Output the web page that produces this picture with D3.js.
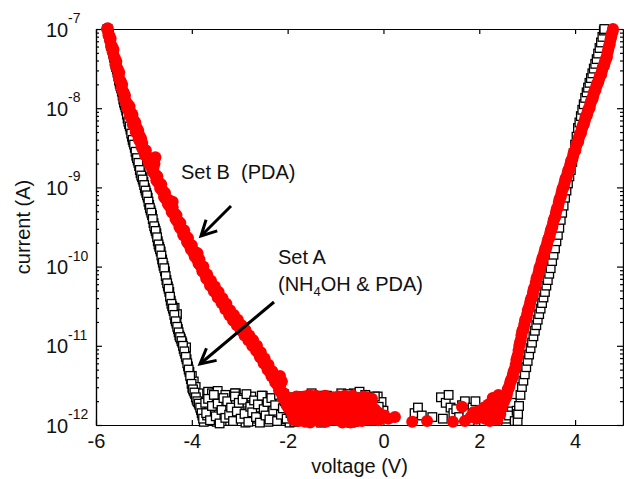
<!DOCTYPE html>
<html>
<head>
<meta charset="utf-8">
<script src="https://cdn.jsdelivr.net/npm/d3@7"></script>
<style>
  html, body { margin: 0; padding: 0; background: #fff; }
  svg { display: block; font-family: "Liberation Sans", Arial, sans-serif; }
</style>
</head>
<body>
<svg id="chart" width="624" height="479"></svg>
<script>
// I-V sweeps, each point is [voltage (V), log10 of current (A)]

// Set A (NH4OH & PDA): negative branch
const setALeft = [
  [-5.76,-7.00],[-5.73,-7.07],[-5.70,-7.17],[-5.67,-7.24],[-5.64,-7.31],[-5.61,-7.41],[-5.58,-7.48],[-5.55,-7.55],
  [-5.52,-7.65],[-5.49,-7.72],[-5.46,-7.79],[-5.43,-7.89],[-5.40,-7.96],[-5.37,-8.03],[-5.34,-8.13],[-5.31,-8.20],
  [-5.28,-8.27],[-5.25,-8.36],[-5.22,-8.43],[-5.19,-8.50],[-5.16,-8.60],[-5.13,-8.66],[-5.10,-8.73],[-5.07,-8.82],
  [-5.04,-8.87],[-5.01,-8.93],[-4.98,-9.01],[-4.95,-9.07],[-4.92,-9.13],[-4.89,-9.22],[-4.86,-9.29],[-4.83,-9.35],
  [-4.80,-9.45],[-4.77,-9.52],[-4.74,-9.58],[-4.71,-9.68],[-4.68,-9.75],[-4.65,-9.81],[-4.62,-9.91],[-4.59,-9.99],
  [-4.56,-10.06],[-4.53,-10.17],[-4.50,-10.25],[-4.47,-10.32],[-4.44,-10.43],[-4.41,-10.50],[-4.38,-10.56],[-4.35,-10.66],
  [-4.32,-10.72],[-4.29,-10.79],[-4.26,-10.87],[-4.23,-10.91],[-4.20,-10.96],[-4.17,-11.04],[-4.14,-11.10],[-4.11,-11.17],
  [-4.08,-11.26],[-4.05,-11.33],[-4.02,-11.42],[-3.99,-11.53],[-3.96,-11.57],[-3.93,-11.61],[-3.90,-11.68],[-3.87,-11.71],
  [-3.84,-11.75],[-3.81,-11.81],[-3.78,-11.88],[-3.75,-11.96],
  [-4.36,-10.52],[-4.31,-10.60],[-4.12,-11.02],[-4.00,-11.38],[-3.96,-11.45],[-3.92,-11.52],[-3.86,-11.60]
];
// interleaved readings of the same branch
const setALeftFill = [
  [-5.745,-7.03],[-5.715,-7.12],[-5.685,-7.21],[-5.655,-7.27],[-5.625,-7.36],[-5.595,-7.45],[-5.565,-7.51],[-5.535,-7.60],
  [-5.505,-7.69],[-5.475,-7.75],[-5.445,-7.84],[-5.415,-7.93],[-5.385,-7.99],[-5.355,-8.08],[-5.325,-8.17],[-5.295,-8.23],
  [-5.265,-8.32],[-5.235,-8.40],[-5.205,-8.46],[-5.175,-8.55],[-5.145,-8.63],[-5.115,-8.69],[-5.085,-8.78],[-5.055,-8.85],
  [-5.025,-8.90],[-4.995,-8.97],[-4.965,-9.04],[-4.935,-9.10],[-4.905,-9.18],[-4.875,-9.26],[-4.845,-9.32],[-4.815,-9.40],
  [-4.785,-9.49],[-4.755,-9.55],[-4.725,-9.63],[-4.695,-9.72],[-4.665,-9.78],[-4.635,-9.86],[-4.605,-9.95],[-4.575,-10.02],
  [-4.545,-10.12],[-4.515,-10.21],[-4.485,-10.28],[-4.455,-10.38],[-4.425,-10.47],[-4.395,-10.53],[-4.365,-10.61],[-4.335,-10.69],
  [-4.305,-10.76],[-4.275,-10.83],[-4.245,-10.89],[-4.215,-10.94],[-4.185,-11.00],[-4.155,-11.07],[-4.125,-11.14],[-4.095,-11.22],
  [-4.065,-11.30],[-4.035,-11.38],[-4.005,-11.48],[-3.975,-11.55],[-3.945,-11.59],[-3.915,-11.65],[-3.885,-11.70],[-3.855,-11.73],
  [-3.825,-11.78],[-3.795,-11.85],[-3.765,-11.92]
];

// Set A: leakage floor
const setAFloor = [
  [-3.72,-11.72],[-3.68,-11.88],[-3.64,-11.65],[-3.60,-11.93],[-3.56,-11.80],[-3.52,-11.70],[-3.48,-11.96],[-3.44,-11.84],
  [-3.40,-11.62],[-3.36,-11.90],[-3.32,-11.77],[-3.28,-11.86],[-3.24,-11.68],[-3.20,-11.95],[-3.16,-11.74],[-3.12,-11.83],
  [-3.08,-11.60],[-3.04,-11.91],[-3.00,-11.79],[-2.96,-11.87],[-2.92,-11.66],[-2.88,-11.97],[-2.84,-11.75],[-2.80,-11.82],
  [-2.76,-11.64],[-2.72,-11.92],[-2.68,-11.71],[-2.64,-11.89],[-2.60,-11.78],[-2.56,-11.94],[-2.52,-11.63],[-2.48,-11.85],
  [-2.44,-11.73],[-2.40,-11.96],[-2.36,-11.69],[-2.32,-11.81],[-2.28,-11.90],[-2.24,-11.67],[-2.20,-11.88],[-2.16,-11.76],
  [-2.12,-11.93],[-2.08,-11.61],[-2.04,-11.84],[-2.00,-11.72],[-1.96,-11.97],[-1.92,-11.79],[-1.88,-11.66],[-1.84,-11.91],
  [-1.80,-11.74],[-1.76,-11.86],[-1.72,-11.64],[-1.68,-11.95],[-1.64,-11.70],[-1.60,-11.83],[-1.56,-11.89],[-1.52,-11.62],
  [-1.48,-11.78],[-1.44,-11.93],[-1.40,-11.68],[-1.36,-11.85],[-1.32,-11.75],[-1.28,-11.96],[-1.24,-11.63],[-1.20,-11.80],
  [-1.16,-11.90],[-1.12,-11.71],[-1.08,-11.87],[-1.04,-11.66],[-1.00,-11.94],[-0.96,-11.77],[-0.92,-11.82],[-0.88,-11.60],
  [-0.84,-11.92],[-0.80,-11.73],[-0.76,-11.88],[-0.72,-11.65],[-0.68,-11.97],[-0.64,-11.79],[-0.60,-11.84],[-0.56,-11.69],
  [-0.52,-11.91],[-0.48,-11.76],[-0.44,-11.62],[-0.40,-11.89],[-0.36,-11.74],[-0.32,-11.95],[-0.28,-11.67],[-0.24,-11.83],
  [-0.20,-11.78],[-0.16,-11.93],[-0.12,-11.64],[-0.08,-11.86],[-0.04,-11.71],
  [-3.66,-11.58],[-3.58,-11.60],[-3.46,-11.57],[-3.30,-11.62],[-3.10,-11.60],[-0.62,-11.60],[-0.50,-11.58],[-0.38,-11.62],
  [0.00,-11.82]
];
const setAFloorFill = [
  [-3.70,-11.85],[-3.66,-11.67],[-3.62,-11.94],[-3.58,-11.76],[-3.54,-11.62],[-3.50,-11.89],[-3.46,-11.73],[-3.42,-11.98],
  [-3.38,-11.81],[-3.34,-11.66],[-3.30,-11.91],[-3.26,-11.70],[-3.22,-11.87],[-3.18,-11.78],[-3.14,-11.95],[-3.10,-11.64],
  [-3.06,-11.83],[-3.02,-11.72],[-2.98,-11.92],[-2.94,-11.68],[-2.90,-11.86],[-2.86,-11.61],[-2.82,-11.96],[-2.78,-11.77],
  [-2.74,-11.84],[-2.70,-11.69],[-2.66,-11.90],[-2.62,-11.74],[-2.58,-11.97],[-2.54,-11.63],[-2.50,-11.80],[-2.46,-11.88],
  [-2.42,-11.71],[-2.38,-11.93],[-2.34,-11.66],[-2.30,-11.82],[-2.26,-11.75],[-2.22,-11.95],[-2.18,-11.62],[-2.14,-11.87],
  [-2.10,-11.79],[-2.06,-11.70],[-2.02,-11.92],[-1.98,-11.65],[-1.94,-11.85],[-1.90,-11.73],[-1.86,-11.96],[-1.82,-11.68],
  [-1.78,-11.81],[-1.74,-11.89],[-1.70,-11.64],[-1.66,-11.77],[-1.62,-11.94],[-1.58,-11.71],[-1.54,-11.86],[-1.50,-11.60],
  [-1.46,-11.90],[-1.42,-11.76],[-1.38,-11.83],[-1.34,-11.67],[-1.30,-11.97],[-1.26,-11.74],[-1.22,-11.88],[-1.18,-11.63],
  [-1.14,-11.80],[-1.10,-11.93],[-1.06,-11.69],[-1.02,-11.85],[-0.98,-11.72],[-0.94,-11.95],[-0.90,-11.66],[-0.86,-11.82],
  [-0.82,-11.78],[-0.78,-11.91],[-0.74,-11.61],[-0.70,-11.87],[-0.66,-11.75],[-0.62,-11.96],[-0.58,-11.70],[-0.54,-11.84],
  [-0.50,-11.65],[-0.46,-11.89],[-0.42,-11.79],[-0.38,-11.94],[-0.34,-11.68],[-0.30,-11.81],[-0.26,-11.73],[-0.22,-11.92],
  [-0.18,-11.64],[-0.14,-11.86],[-0.10,-11.77],[-0.06,-11.90]
];

// Set A: scattered points around zero bias
const setAMid = [
  [0.65,-11.85],[0.72,-11.78],[0.80,-11.88],[1.02,-11.90],[1.20,-11.65],[1.24,-11.92],[1.30,-11.72],[1.36,-11.62],
  [1.40,-11.78],[1.46,-11.85],[1.52,-11.80],[1.58,-11.90],[1.64,-11.75],[1.70,-11.70],[1.75,-11.85],[1.80,-11.95],
  [1.86,-11.78],[1.92,-11.70],[1.97,-11.88],[2.02,-11.82],[2.08,-11.90],[2.14,-11.80],[2.20,-11.92],[2.26,-11.84],
  [2.32,-11.78],[2.38,-11.95],[2.44,-11.86],[2.50,-11.80],[2.56,-11.92],[2.62,-11.88],[2.68,-11.72],[2.74,-11.95],
  [2.78,-11.82]
];

// Set A: positive branch
const setARight = [
  [2.80,-11.95],[2.81,-11.86],[2.83,-11.76],[2.86,-11.62],[2.89,-11.52],[2.92,-11.44],[2.95,-11.36],[2.98,-11.27],
  [3.01,-11.19],[3.04,-11.11],[3.07,-11.03],[3.10,-10.96],[3.13,-10.88],[3.16,-10.81],[3.19,-10.74],[3.22,-10.67],
  [3.25,-10.60],[3.28,-10.53],[3.31,-10.46],[3.34,-10.39],[3.37,-10.32],[3.40,-10.24],[3.43,-10.17],[3.46,-10.09],
  [3.49,-10.02],[3.52,-9.93],[3.55,-9.85],[3.58,-9.77],[3.61,-9.68],[3.64,-9.60],[3.67,-9.51],[3.70,-9.41],
  [3.73,-9.32],[3.76,-9.23],[3.79,-9.13],[3.82,-9.04],[3.85,-8.95],[3.88,-8.86],[3.91,-8.78],[3.94,-8.68],
  [3.97,-8.57],[4.00,-8.46],[4.03,-8.36],[4.06,-8.25],[4.09,-8.18],[4.12,-8.10],[4.15,-8.02],[4.18,-7.95],
  [4.21,-7.87],[4.24,-7.80],[4.27,-7.74],[4.30,-7.68],[4.33,-7.62],[4.36,-7.56],[4.39,-7.50],[4.42,-7.44],
  [4.45,-7.38],[4.48,-7.31],[4.51,-7.24],[4.54,-7.17],[4.57,-7.10],[4.60,-7.02],[4.61,-7.00]
];

// Set B (PDA): negative branch
const setBLeft = [
  [-5.77,-7.00],[-5.74,-7.08],[-5.71,-7.14],[-5.68,-7.23],[-5.65,-7.29],[-5.62,-7.36],[-5.59,-7.45],[-5.56,-7.50],
  [-5.53,-7.59],[-5.50,-7.65],[-5.47,-7.74],[-5.44,-7.79],[-5.41,-7.88],[-5.38,-7.92],[-5.35,-8.00],[-5.32,-8.03],
  [-5.29,-8.10],[-5.26,-8.13],[-5.23,-8.21],[-5.20,-8.22],[-5.17,-8.30],[-5.14,-8.32],[-5.11,-8.39],[-5.08,-8.42],
  [-5.05,-8.49],[-5.02,-8.52],[-4.98,-8.59],[-4.94,-8.61],[-4.90,-8.69],[-4.86,-8.73],[-4.82,-8.80],[-4.78,-8.83],
  [-4.74,-8.91],[-4.70,-8.94],[-4.66,-9.01],[-4.62,-9.04],[-4.58,-9.12],[-4.54,-9.15],[-4.50,-9.21],[-4.46,-9.24],
  [-4.42,-9.31],[-4.38,-9.33],[-4.34,-9.40],[-4.30,-9.43],[-4.26,-9.50],[-4.22,-9.53],[-4.18,-9.60],[-4.14,-9.62],
  [-4.10,-9.69],[-4.06,-9.72],[-4.02,-9.78],[-3.98,-9.81],[-3.94,-9.87],[-3.90,-9.90],[-3.86,-9.96],[-3.82,-9.99],
  [-3.78,-10.06],[-3.74,-10.08],[-3.70,-10.15],[-3.66,-10.17],[-3.62,-10.24],[-3.58,-10.25],[-3.54,-10.31],[-3.50,-10.33],
  [-3.46,-10.39],[-3.42,-10.40],[-3.38,-10.46],[-3.34,-10.48],[-3.30,-10.54],[-3.26,-10.55],[-3.22,-10.61],[-3.18,-10.63],
  [-3.14,-10.68],[-3.10,-10.69],[-3.06,-10.74],[-3.02,-10.75],[-2.98,-10.80],[-2.94,-10.82],[-2.90,-10.87],[-2.86,-10.88],
  [-2.82,-10.93],[-2.78,-10.94],[-2.74,-11.00],[-2.70,-11.01],[-2.66,-11.06],[-2.62,-11.08],[-2.58,-11.14],[-2.54,-11.16],
  [-2.50,-11.22],[-2.46,-11.24],[-2.42,-11.30],[-2.38,-11.32],[-2.34,-11.38],[-2.30,-11.40],[-2.26,-11.46],[-2.22,-11.49],
  [-2.18,-11.56],[-2.14,-11.59],[-2.10,-11.66],[-2.06,-11.68],[-2.02,-11.75],[-1.98,-11.79],
  [-4.76,-8.62],[-4.78,-8.70],[-4.40,-9.18],[-4.43,-9.25],[-3.88,-9.83],[-2.16,-11.38],[-2.12,-11.45],
  [-5.30,-7.98],[-5.24,-8.08],[-5.18,-8.18],[-5.12,-8.28],[-5.06,-8.38]
];
const setBLeftFill = [
  [-5.755,-6.99],[-5.725,-7.08],[-5.695,-7.12],[-5.665,-7.22],[-5.635,-7.26],[-5.605,-7.37],[-5.575,-7.41],[-5.545,-7.51],
  [-5.515,-7.55],[-5.485,-7.66],[-5.455,-7.70],[-5.425,-7.80],[-5.395,-7.84],[-5.365,-7.93],[-5.335,-7.95],[-5.305,-8.03],
  [-5.275,-8.05],[-5.245,-8.14],[-5.215,-8.15],[-5.185,-8.23],[-5.155,-8.24],[-5.125,-8.32],[-5.095,-8.34],[-5.065,-8.42],
  [-5.035,-8.44],[-5.00,-8.52],[-4.96,-8.53],[-4.92,-8.62],[-4.88,-8.64],[-4.84,-8.73],[-4.80,-8.75],[-4.76,-8.84],
  [-4.72,-8.86],[-4.68,-8.94],[-4.64,-8.96],[-4.60,-9.05],[-4.56,-9.07],[-4.52,-9.15],[-4.48,-9.16],[-4.44,-9.24],
  [-4.40,-9.25],[-4.36,-9.33],[-4.32,-9.35],[-4.28,-9.43],[-4.24,-9.45],[-4.20,-9.53],[-4.16,-9.54],[-4.12,-9.62],
  [-4.08,-9.64],[-4.04,-9.72],[-4.00,-9.73],[-3.96,-9.81],[-3.92,-9.82],[-3.88,-9.90],[-3.84,-9.91],[-3.80,-10.00],
  [-3.76,-10.00],[-3.72,-10.08],[-3.68,-10.10],[-3.64,-10.17],[-3.60,-10.18],[-3.56,-10.25],[-3.52,-10.25],[-3.48,-10.33],
  [-3.44,-10.32],[-3.40,-10.40],[-3.36,-10.40],[-3.32,-10.48],[-3.28,-10.47],[-3.24,-10.55],[-3.20,-10.55],[-3.16,-10.62],
  [-3.12,-10.61],[-3.08,-10.68],[-3.04,-10.67],[-3.00,-10.74],[-2.96,-10.74],[-2.92,-10.81],[-2.88,-10.80],[-2.84,-10.87],
  [-2.80,-10.87],[-2.76,-10.94],[-2.72,-10.93],[-2.68,-11.00],[-2.64,-11.00],[-2.60,-11.08],[-2.56,-11.08],[-2.52,-11.16],
  [-2.48,-11.16],[-2.44,-11.24],[-2.40,-11.24],[-2.36,-11.32],[-2.32,-11.32],[-2.28,-11.40],[-2.24,-11.41],[-2.20,-11.49],
  [-2.16,-11.51],[-2.12,-11.59],[-2.08,-11.60],[-2.04,-11.68],[-2.00,-11.71]
];

// Set B: leakage floor
const setBFloor = [
  [-1.95,-11.80],[-1.92,-11.70],[-1.89,-11.92],[-1.86,-11.66],[-1.83,-11.85],[-1.80,-11.75],[-1.77,-11.95],[-1.74,-11.68],
  [-1.71,-11.88],[-1.68,-11.78],[-1.65,-11.64],[-1.62,-11.90],[-1.59,-11.73],[-1.56,-11.83],[-1.53,-11.97],[-1.50,-11.69],
  [-1.47,-11.81],[-1.44,-11.87],[-1.41,-11.63],[-1.38,-11.93],[-1.35,-11.76],[-1.32,-11.71],[-1.29,-11.89],[-1.26,-11.66],
  [-1.23,-11.84],[-1.20,-11.96],[-1.17,-11.74],[-1.14,-11.67],[-1.11,-11.91],[-1.08,-11.79],[-1.05,-11.65],[-1.02,-11.86],
  [-0.99,-11.72],[-0.96,-11.94],[-0.93,-11.82],[-0.90,-11.68],[-0.87,-11.88],[-0.84,-11.77],[-0.81,-11.63],[-0.78,-11.92],
  [-0.75,-11.70],[-0.72,-11.85],[-0.69,-11.97],[-0.66,-11.75],[-0.63,-11.66],[-0.60,-11.90],[-0.57,-11.80],[-0.54,-11.69],
  [-0.51,-11.87],[-0.48,-11.73],[-0.45,-11.95],[-0.42,-11.64],[-0.39,-11.83],[-0.36,-11.78],[-0.33,-11.91],[-0.30,-11.71],
  [-0.27,-11.86],[-0.24,-11.67],[-0.21,-11.93],[-0.18,-11.80],[-0.15,-11.88],[-0.12,-11.84],[-0.09,-11.90]
];
const setBFloorFill = [
  [-1.935,-11.68],[-1.905,-11.86],[-1.875,-11.74],[-1.845,-11.94],[-1.815,-11.64],[-1.785,-11.82],[-1.755,-11.71],[-1.725,-11.90],
  [-1.695,-11.77],[-1.665,-11.66],[-1.635,-11.96],[-1.605,-11.72],[-1.575,-11.85],[-1.545,-11.62],[-1.515,-11.79],[-1.485,-11.92],
  [-1.455,-11.69],[-1.425,-11.84],[-1.395,-11.75],[-1.365,-11.95],[-1.335,-11.65],[-1.305,-11.88],[-1.275,-11.73],[-1.245,-11.81],
  [-1.215,-11.63],[-1.185,-11.91],[-1.155,-11.78],[-1.125,-11.70],[-1.095,-11.87],[-1.065,-11.67],[-1.035,-11.93],[-1.005,-11.76],
  [-0.975,-11.83],[-0.945,-11.64],[-0.915,-11.89],[-0.885,-11.72],[-0.855,-11.97],[-0.825,-11.68],[-0.795,-11.80],[-0.765,-11.86],
  [-0.735,-11.66],[-0.705,-11.74],[-0.675,-11.92],[-0.645,-11.63],[-0.615,-11.84],[-0.585,-11.77],[-0.555,-11.95],[-0.525,-11.70],
  [-0.495,-11.82],[-0.465,-11.67],[-0.435,-11.90],[-0.405,-11.75],[-0.375,-11.86],[-0.345,-11.65],[-0.315,-11.93],[-0.285,-11.79],
  [-0.255,-11.71],[-0.225,-11.88],[-0.195,-11.83],[-0.165,-11.92],[-0.135,-11.87],[-0.105,-11.94]
];

// Set B: sparse points up to the turn-on
const setBMid = [
  [0.02,-11.88],[0.10,-11.92],[0.24,-11.90],[0.60,-11.96],[0.91,-11.95],[1.45,-11.96],[1.64,-11.77],[1.70,-11.95],
  [1.82,-11.90],[1.88,-11.84],[1.94,-11.92],[2.00,-11.82],[2.05,-11.88],[2.10,-11.78],[2.15,-11.85],[2.19,-11.74],
  [2.23,-11.86],[2.27,-11.76],[2.31,-11.82],[2.35,-11.70],[2.39,-11.80],[2.43,-11.72],[2.47,-11.78],[2.50,-11.68],
  [2.12,-11.92],[2.22,-11.95],[2.30,-11.90],[2.38,-11.93],[2.44,-11.86],[2.28,-11.66],[2.40,-11.62]
];

// Set B: positive branch
const setBRight = [
  [2.52,-11.70],[2.55,-11.66],[2.58,-11.60],[2.61,-11.54],[2.64,-11.48],[2.67,-11.43],[2.70,-11.37],[2.73,-11.31],
  [2.76,-11.24],[2.79,-11.15],[2.82,-11.06],[2.85,-10.96],[2.88,-10.87],[2.91,-10.80],[2.94,-10.73],[2.97,-10.66],
  [3.00,-10.60],[3.03,-10.53],[3.06,-10.46],[3.09,-10.40],[3.12,-10.33],[3.15,-10.27],[3.18,-10.20],[3.21,-10.13],
  [3.24,-10.07],[3.27,-10.00],[3.30,-9.94],[3.33,-9.88],[3.36,-9.82],[3.39,-9.76],[3.42,-9.70],[3.45,-9.64],
  [3.48,-9.58],[3.51,-9.52],[3.54,-9.45],[3.57,-9.39],[3.60,-9.32],[3.63,-9.26],[3.66,-9.19],[3.69,-9.13],
  [3.72,-9.06],[3.75,-9.00],[3.78,-8.94],[3.81,-8.88],[3.84,-8.83],[3.87,-8.77],[3.90,-8.71],[3.93,-8.65],
  [3.96,-8.59],[3.99,-8.54],[4.02,-8.48],[4.05,-8.43],[4.08,-8.37],[4.11,-8.32],[4.14,-8.26],[4.17,-8.21],
  [4.20,-8.16],[4.23,-8.10],[4.26,-8.05],[4.29,-8.00],[4.32,-7.94],[4.35,-7.89],[4.38,-7.84],[4.41,-7.78],
  [4.44,-7.73],[4.47,-7.68],[4.50,-7.63],[4.53,-7.58],[4.56,-7.53],[4.59,-7.47],[4.62,-7.42],[4.65,-7.37],
  [4.68,-7.29],[4.71,-7.21],[4.74,-7.13],[4.77,-7.05],[4.79,-7.00]
];
const setBRightFill = [
  [2.535,-11.66],[2.565,-11.64],[2.595,-11.55],[2.625,-11.52],[2.655,-11.44],[2.685,-11.41],[2.715,-11.33],[2.745,-11.29],
  [2.775,-11.18],[2.805,-11.12],[2.835,-11.00],[2.865,-10.93],[2.895,-10.82],[2.925,-10.78],[2.955,-10.68],[2.985,-10.65],
  [3.015,-10.55],[3.045,-10.51],[3.075,-10.42],[3.105,-10.38],[3.135,-10.29],[3.165,-10.25],[3.195,-10.15],[3.225,-10.12],
  [3.255,-10.02],[3.285,-9.99],[3.315,-9.90],[3.345,-9.87],[3.375,-9.78],[3.405,-9.75],[3.435,-9.66],[3.465,-9.63],
  [3.495,-9.54],[3.525,-9.50],[3.555,-9.41],[3.585,-9.37],[3.615,-9.28],[3.645,-9.24],[3.675,-9.15],[3.705,-9.11],
  [3.735,-9.02],[3.765,-8.99],[3.795,-8.90],[3.825,-8.87],[3.855,-8.79],[3.885,-8.76],[3.915,-8.67],[3.945,-8.64],
  [3.975,-8.56],[4.005,-8.53],[4.035,-8.45],[4.065,-8.42],[4.095,-8.34],[4.125,-8.31],[4.155,-8.23],[4.185,-8.20],
  [4.215,-8.12],[4.245,-8.09],[4.275,-8.02],[4.305,-7.99],[4.335,-7.91],[4.365,-7.88],[4.395,-7.80],[4.425,-7.77],
  [4.455,-7.70],[4.485,-7.67],[4.515,-7.60],[4.545,-7.57],[4.575,-7.49],[4.605,-7.46],[4.635,-7.39],[4.665,-7.35],
  [4.695,-7.25],[4.725,-7.19],[4.755,-7.09],[4.785,-7.03]
];

const xTickValues = [-6, -4, -2, 0, 2, 4];
const yDecadeExponents = [-12, -11, -10, -9, -8, -7];

const xLabel = "voltage (V)";
const yLabel = "current (A)";

// ---- layout ----
const svg = d3.select("#chart");
const plotL = 96, plotR = 623, plotT = 29, plotB = 425;

const x = d3.scaleLinear().domain([-6, 5]).range([plotL, plotR]);
const y = d3.scaleLog().domain([1e-12, 1e-7]).range([plotB, plotT]);

const toA = e => Math.pow(10, e);
const decadeTicks = yDecadeExponents.map(toA);
const minorTicks = [];
yDecadeExponents.slice(0, -1).forEach(e => {
  for (let m = 2; m <= 9; m++) minorTicks.push(m * toA(e));
});

function styleAxis(g) {
  g.selectAll("path, line").attr("stroke", "#000").attr("stroke-width", 1.2);
  g.selectAll("text").remove();
}

// frame + ticks (all pointing inward)
svg.append("g").attr("transform", `translate(0,${plotB})`)
  .call(d3.axisBottom(x).tickValues(xTickValues).tickSizeInner(-5).tickSizeOuter(0).tickPadding(9)
    .tickFormat(d => String(d)))
  .call(g => {
    g.selectAll("path, line").attr("stroke", "#000").attr("stroke-width", 1.2);
    g.selectAll("text").attr("font-size", 20).attr("fill", "#111")
      .attr("font-family", "'Liberation Sans', Arial, sans-serif");
  });

svg.append("g").attr("transform", `translate(0,${plotT})`)
  .call(d3.axisTop(x).tickValues(xTickValues).tickSizeInner(-5).tickSizeOuter(0))
  .call(styleAxis);

svg.append("g").attr("transform", `translate(${plotL},0)`)
  .call(d3.axisLeft(y).tickValues(decadeTicks).tickSizeInner(-6).tickSizeOuter(0))
  .call(styleAxis);
svg.append("g").attr("transform", `translate(${plotL},0)`)
  .call(d3.axisLeft(y).tickValues(minorTicks).tickSizeInner(-3).tickSizeOuter(0))
  .call(styleAxis);

svg.append("g").attr("transform", `translate(${plotR},0)`)
  .call(d3.axisRight(y).tickValues(decadeTicks).tickSizeInner(-6).tickSizeOuter(0))
  .call(styleAxis);
svg.append("g").attr("transform", `translate(${plotR},0)`)
  .call(d3.axisRight(y).tickValues(minorTicks).tickSizeInner(-3).tickSizeOuter(0))
  .call(styleAxis);

// y tick labels as 10^n
const yLab = svg.append("g").attr("fill", "#111");
yDecadeExponents.forEach(e => {
  const py = y(toA(e));
  yLab.append("text").attr("x", 46).attr("y", py + 7.5).attr("font-size", 20).text("10");
  yLab.append("text").attr("x", 68).attr("y", py - 6).attr("font-size", 14).text(String(e));
});

// axis titles
svg.append("text").attr("x", (plotL + plotR) / 2).attr("y", 473)
  .attr("text-anchor", "middle").attr("font-size", 20).attr("fill", "#111").text(xLabel);
svg.append("text").attr("transform", `translate(30,${(plotT + plotB) / 2}) rotate(-90)`)
  .attr("text-anchor", "middle").attr("font-size", 20).attr("fill", "#111").text(yLabel);

// ---- data marks ----
const setA = [...setALeft, ...setALeftFill, ...setAFloor, ...setAFloorFill, ...setAMid, ...setARight];
const setB = [...setBLeft, ...setBLeftFill, ...setBFloor, ...setBFloorFill, ...setBMid, ...setBRight, ...setBRightFill];
const sq = 8.6;

svg.append("g").selectAll("rect").data(setA).join("rect")
  .attr("x", d => x(d[0]) - sq / 2)
  .attr("y", d => y(toA(d[1])) - sq / 2)
  .attr("width", sq).attr("height", sq)
  .attr("fill", "#fff").attr("stroke", "#000").attr("stroke-width", 1.3);

svg.append("g").selectAll("circle").data(setB).join("circle")
  .attr("cx", d => x(d[0]))
  .attr("cy", d => y(toA(d[1])))
  .attr("r", 6)
  .attr("fill", "#ff0000");

// ---- annotations ----
function arrow(x0, y0, x1, y1) {
  const ang = Math.atan2(y0 - y1, x0 - x1);
  const len = 17, spread = Math.PI / 6.5;
  const g = svg.append("g").attr("stroke", "#000").attr("stroke-width", 3).attr("fill", "none");
  g.append("line").attr("x1", x0).attr("y1", y0).attr("x2", x1).attr("y2", y1);
  g.append("path").attr("d",
    `M${x1 + len * Math.cos(ang - spread)},${y1 + len * Math.sin(ang - spread)}` +
    `L${x1},${y1}` +
    `L${x1 + len * Math.cos(ang + spread)},${y1 + len * Math.sin(ang + spread)}`);
}

svg.append("text").attr("x", 181).attr("y", 179).attr("font-size", 20).attr("fill", "#111")
  .style("white-space", "pre").text("Set B  (PDA)");
arrow(231, 206, 201, 236);

svg.append("text").attr("x", 278).attr("y", 264).attr("font-size", 20).attr("fill", "#111").text("Set A");
const l2 = svg.append("text").attr("x", 278).attr("y", 291).attr("font-size", 20).attr("fill", "#111");
l2.append("tspan").text("(NH");
l2.append("tspan").attr("font-size", 13).attr("dy", 5).text("4");
l2.append("tspan").attr("dy", -5).text("OH & PDA)");
arrow(274, 302, 200, 364);
</script>
</body>
</html>
